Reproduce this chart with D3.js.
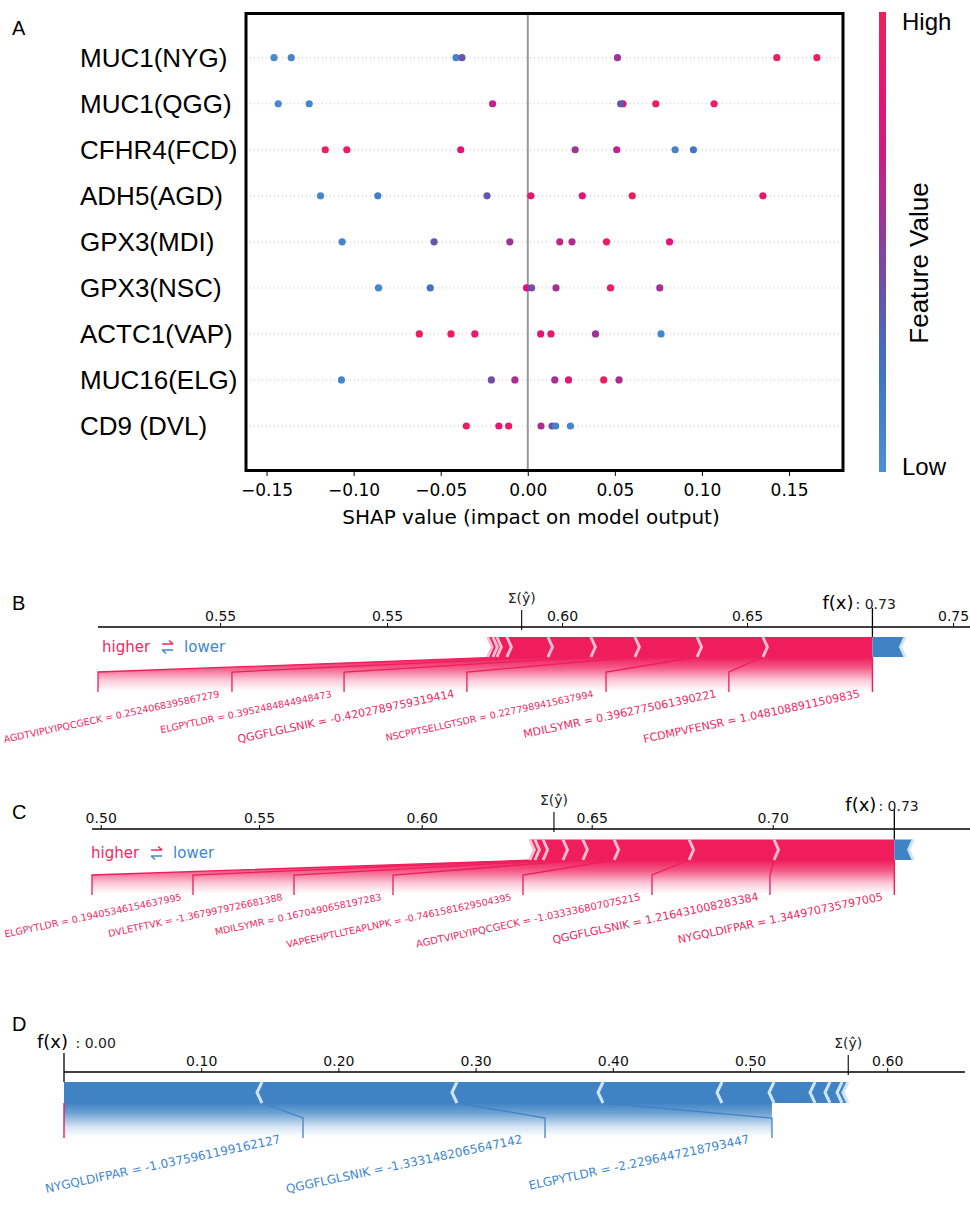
<!DOCTYPE html>
<html><head><meta charset="utf-8">
<script src="https://cdn.jsdelivr.net/npm/d3@7"></script>
<style>body{margin:0;background:#fff} svg{display:block}</style>
</head><body>
<svg id="c" width="970" height="1206"></svg>
<script>
// ---------------- Panel A data ----------------
const rowsA = ["MUC1(NYG)","MUC1(QGG)","CFHR4(FCD)","ADH5(AGD)","GPX3(MDI)","GPX3(NSC)","ACTC1(VAP)","MUC16(ELG)","CD9 (DVL)"];
const shapA = [
 [-0.1457,-0.1358,-0.0412,-0.0378,0.0515,0.143,0.166],
 [-0.1433,-0.1255,-0.0202,0.0547,0.0533,0.0735,0.107],
 [-0.1163,-0.1039,-0.0385,0.0272,0.0511,0.0846,0.0951],
 [-0.119,-0.0861,-0.0234,0.0018,0.0313,0.060,0.135],
 [-0.1066,-0.0538,-0.0103,0.0184,0.0254,0.0452,0.0814],
 [-0.0857,-0.056,-0.0007,0.0022,0.0162,0.0475,0.0758],
 [-0.0623,-0.0441,-0.0304,0.0074,0.0133,0.0389,0.0765],
 [-0.107,-0.0209,-0.0074,0.0155,0.0234,0.0436,0.0524],
 [-0.0353,-0.0166,-0.011,0.0076,0.0139,0.016,0.0245]
];
const featA = [
 [0.05,0.08,0.1,0.4,0.55,0.97,0.98],
 [0.05,0.08,0.65,0.8,0.38,0.95,0.95],
 [0.97,0.95,0.75,0.55,0.65,0.1,0.2],
 [0.08,0.12,0.38,0.8,0.78,0.95,0.85],
 [0.1,0.38,0.55,0.65,0.6,0.95,0.8],
 [0.08,0.2,0.75,0.4,0.58,0.95,0.58],
 [0.97,0.93,0.88,0.8,0.88,0.55,0.08],
 [0.08,0.42,0.6,0.58,0.82,0.95,0.6],
 [0.95,0.82,0.9,0.6,0.4,0.1,0.08]
];
const xTicksA = [-0.15,-0.10,-0.05,0,0.05,0.10,0.15];

// ---------------- Panel B data ----------------
const bOut = 0.6839, bBase = 0.5891;
const bPosShap = [0.0296,0.0178,0.0168,0.0119,0.0116,0.0111,0.0027,0.0011,0.0014];
const bNegShap = [0.0088];
const bLabelText = ["FCDMPVFENSR = 1.0481088911509835","MDILSYMR = 0.3962775061390221","NSCPPTSELLGTSDR = 0.2277989415637994","QGGFLGLSNIK = -0.4202789759319414","ELGPYTLDR = 0.3952484844948473","AGDTVIPLYIPQCGECK = 0.2524068395867279"];
const bLabelEnd = [0.6451,0.6119,0.5743,0.5411,0.5108,0.4746];
const bLabelSize = [11,11,9.5,11,9.5,9.5];
const bTickVals = [0.5076,0.5527,0.60,0.65,0.7057];
const bTickLabels = ["0.55","0.55","0.60","0.65","0.75"];

// ---------------- Panel C data ----------------
const cOut = 0.7336, cBase = 0.6389;
const cPosShap = [0.03324,0.02346,0.0207,0.0088,0.00584,0.00586,0.0024,0.0015];
const cNegShap = [0.0052];
const cLabelText = ["NYGQLDIFPAR = 1.344970735797005","QGGFLGLSNIK = 1.216431008283384","AGDTVIPLYIPQCGECK = -1.033336807075215","VAPEEHPTLLTEAPLNPK = -0.7461581629504395","MDILSYMR = 0.1670490658197283","DVLETFTVK = -1.3679979726681388","ELGPYTLDR = 0.19405346154637995"];
const cLabelEnd = [0.69925,0.66666,0.62979,0.59118,0.56076,0.52915,0.49725];
const cLabelSize = [11,11,10,9.5,9.5,9.5,9.5];
const cTickVals = [0.50,0.55,0.60,0.65,0.70];
const cTickLabels = ["0.50","0.55","0.60","0.65","0.70"];

// ---------------- Panel D data ----------------
const dOut = 0.00, dBase = 0.5716;
const dPosShap = [];
const dNegShap = [0.1443,0.1421,0.1065,0.0867,0.0379,0.0299,0.0109,0.0088,0.0043];
const dLabelText = ["NYGQLDIFPAR = -1.0375961199162127","QGGFLGLSNIK = -1.3331482065647142","ELGPYTLDR = -2.2296447218793447"];
const dLabelEnd = [0.1742,0.3506,0.5160];
const dLabelSize = [12,12,12];
const dTickVals = [0.10,0.20,0.30,0.40,0.50,0.60];
const dTickLabels = ["0.10","0.20","0.30","0.40","0.50","0.60"];

// ---------------- drawing ----------------
const svg = d3.select("#c");
const defs = svg.append("defs");
const SANS = "Liberation Sans, Arial, sans-serif";
const DJ = "DejaVu Sans, sans-serif";

// ===== Panel A =====
const colA = d3.scaleLinear().domain([0,0.25,0.5,0.75,1]).range(["#4b8fd5","#3f6fbf","#8a3f9c","#e0127c","#f0205a"]);
const xA = d3.scaleLinear().domain([-0.1618, 0.181]).range([246, 843]);
const yA = d3.scalePoint().domain(rowsA).range([57.7, 426]);
const gA = svg.append("g");
gA.selectAll("line.grid").data(rowsA).join("line").attr("class","grid")
  .attr("x1",250).attr("x2",840).attr("y1",d=>yA(d)).attr("y2",d=>yA(d))
  .attr("stroke","#c8c8c8").attr("stroke-width",1).attr("stroke-dasharray","1,3");
gA.append("line").attr("x1",xA(0)).attr("x2",xA(0)).attr("y1",14).attr("y2",470)
  .attr("stroke","#999").attr("stroke-width",2);
rowsA.forEach((r,i)=>{
  gA.selectAll(null).data(shapA[i].map((v,j)=>({v,f:featA[i][j]}))).join("circle")
    .attr("cx",d=>xA(d.v)).attr("cy",yA(r)).attr("r",3.6).attr("fill",d=>colA(d.f));
});
gA.append("rect").attr("x",246).attr("y",13.5).attr("width",597).attr("height",457)
  .attr("fill","none").attr("stroke","#000").attr("stroke-width",3);
const axA = gA.append("g").attr("transform","translate(0,471)")
  .call(d3.axisBottom(xA).tickValues(xTicksA).tickFormat(d3.format(".2f")).tickSize(5).tickPadding(8));
axA.select(".domain").remove();
axA.selectAll("line").attr("stroke","#000");
axA.selectAll("text").attr("font-family",DJ).attr("font-size",17).attr("fill","#000");
gA.append("text").attr("x",531).attr("y",524).attr("text-anchor","middle")
  .attr("font-family",DJ).attr("font-size",20).text("SHAP value (impact on model output)");
gA.selectAll("text.row").data(rowsA).join("text").attr("class","row")
  .attr("x",80).attr("y",d=>yA(d)+9).attr("font-family",SANS).attr("font-size",26).text(d=>d);
gA.append("text").attr("x",12).attr("y",35).attr("font-family",SANS).attr("font-size",20).text("A");
// colorbar
const cbg = defs.append("linearGradient").attr("id","cbar").attr("x1",0).attr("y1",1).attr("x2",0).attr("y2",0);
d3.range(0,1.0001,0.1).forEach(t=>cbg.append("stop").attr("offset",t).attr("stop-color",colA(t)));
gA.append("rect").attr("x",879).attr("y",12).attr("width",7).attr("height",460).attr("fill","url(#cbar)");
gA.append("text").attr("x",902).attr("y",30).attr("font-family",SANS).attr("font-size",24).text("High");
gA.append("text").attr("x",902).attr("y",475).attr("font-family",SANS).attr("font-size",24).text("Low");
gA.append("text").attr("transform","translate(928,263) rotate(-90)").attr("text-anchor","middle")
  .attr("font-family",SANS).attr("font-size",26).text("Feature Value");

// ===== Force panels =====
const RED="#ef1d5b", REDL="#fbbdd0", BLUE="#3f83c5", BLUEL="#cfe4f8", REDT="#f0285f", BLUET="#3d87cf";

function force(p){
  const g = svg.append("g");
  const x = p.x;
  const top = p.barTop, bot = p.barTop + p.barH, mid = (top+bot)/2;
  const O = x(p.out);
  const ind = p.ind;
  const isPos = p.labelType === "pos";
  const col = isPos ? RED : BLUE, colT = isPos ? REDT : BLUET;

  const rects = [], seps = [], posLeft = [], negRight = [];
  let pre = p.out;
  p.pos.forEach((c,i)=>{
    const L = x(pre - c), R = x(pre); pre -= c; posLeft.push(L);
    const pts = i===0 ? [[L,bot],[R,bot],[R,top],[L,top],[L+ind,mid]]
      : [[L,bot],[R,bot],[R+ind*0.9,mid],[R,top],[L,top],[L+ind*0.9,mid]];
    rects.push({pts, fill:RED}); seps.push({pts:[[L,bot],[L+ind,mid],[L,top]], stroke:REDL});
  });
  pre = p.out;
  p.neg.forEach((c,i)=>{
    const L = x(pre), R = x(pre + c); pre += c; negRight.push(R);
    const pts = i===0 ? [[R,bot],[L,bot],[L,top],[R,top],[R-ind,mid]]
      : [[L,bot],[R,bot],[R-ind*0.9,mid],[R,top],[L,top],[L-ind*0.9,mid]];
    rects.push({pts, fill:BLUE}); seps.push({pts:[[R,bot],[R-ind,mid],[R,top]], stroke:BLUEL});
  });

  const gid = "sh"+p.id;
  const lg = defs.append("linearGradient").attr("id",gid).attr("gradientUnits","userSpaceOnUse")
    .attr("x1",0).attr("y1",bot).attr("x2",0).attr("y2",bot+34);
  [[0,1],[0.3,0.75],[0.7,0.22],[1,0]].forEach(s=>lg.append("stop").attr("offset",s[0]).attr("stop-color",col).attr("stop-opacity",s[1]));
  const nL = p.labels.length;
  const vals = isPos ? posLeft.slice(0,nL) : negRight.slice(0,nL);
  const ends = p.labelEnd.map(v=>x(v));
  const Elast = ends[nL-1], Plast = vals[nL-1];
  const shade = isPos ? [[O,bot],[Plast,bot],[Elast,bot+15],[Elast,bot+40],[O,bot+40]]
                      : [[O,bot],[Elast,bot],[Elast,bot+40],[O,bot+40]];
  g.append("path").attr("d", d3.line()(shade)+"Z").attr("fill",`url(#${gid})`);

  g.append("line").attr("x1",O).attr("x2",O).attr("y1",bot).attr("y2",bot+35).attr("stroke",RED).attr("stroke-width",1.4);
  vals.forEach((v,i)=>{
    g.append("path").attr("d",d3.line()([[v,bot],[ends[i],bot+15],[ends[i],bot+35]]))
      .attr("fill","none").attr("stroke",col).attr("stroke-width",1.3);
  });

  g.selectAll("path.bar").data(rects).join("path").attr("class","bar")
    .attr("d",d=>d3.line()(d.pts)+"Z").attr("fill",d=>d.fill);
  g.selectAll("path.sep").data(seps).join("path").attr("class","sep")
    .attr("d",d=>d3.line()(d.pts)).attr("fill","none").attr("stroke",d=>d.stroke).attr("stroke-width",3);

  p.labels.forEach((t,i)=>{
    const rightTick = isPos ? (i===0 ? O : ends[i-1]) : ends[i];
    const ex = rightTick - p.textOff;
    g.append("text").attr("transform",`translate(${ex},${bot+40}) rotate(-12)`)
      .attr("text-anchor","end").attr("font-family",DJ).attr("font-size",p.labelSize[i])
      .attr("fill",colT).text(t);
  });

  const ay = p.axisY;
  g.append("line").attr("x1",p.axisX[0]).attr("x2",p.axisX[1]).attr("y1",ay).attr("y2",ay)
    .attr("stroke","#000").attr("stroke-width",1.4);
  const ax = g.append("g").attr("transform",`translate(0,${ay})`)
    .call(d3.axisTop(x).tickValues(p.ticks).tickFormat((d,i)=>p.tickLabels[i]).tickSize(4).tickPadding(2));
  ax.select(".domain").remove();
  ax.selectAll("line").attr("stroke","#000");
  ax.selectAll("text").attr("font-family",DJ).attr("font-size",14).attr("fill","#111");

  const Bx = x(p.base);
  g.append("line").attr("x1",Bx).attr("x2",Bx).attr("y1",ay-17).attr("y2",ay+3).attr("stroke","#000").attr("stroke-width",1.1);
  g.append("text").attr("x",Bx).attr("y",ay-24).attr("text-anchor","middle").attr("font-family",DJ)
    .attr("font-size",14).attr("fill","#222").text("Σ(ŷ)");

  g.append("line").attr("x1",O).attr("x2",O).attr("y1",ay-19).attr("y2",top).attr("stroke","#000").attr("stroke-width",1.3);
  const ft = g.append("text").attr("x",O+p.fxDx).attr("y",ay+p.fxDy).attr("font-family",DJ);
  ft.append("tspan").attr("font-size",18).attr("fill","#000").text("f(x)");
  ft.append("tspan").attr("font-size",14).attr("fill","#222").attr("dx",p.fxGap).text(p.fxVal);

  if (p.legend){
    const lx = p.legend[0], ly = p.legend[1];
    const h = g.append("text").attr("x",lx).attr("y",ly).attr("font-family",DJ).attr("font-size",15).attr("fill",REDT).text("higher");
    const w = h.node().getComputedTextLength();
    const a = lx + w + 12, cy = ly - 5;
    g.append("path").attr("d",`M${a},${cy-3}H${a+11}M${a+7},${cy-6.5}L${a+11},${cy-3}`).attr("fill","none").attr("stroke",REDT).attr("stroke-width",1.6);
    g.append("path").attr("d",`M${a+11},${cy+3}H${a}M${a+4},${cy+6.5}L${a},${cy+3}`).attr("fill","none").attr("stroke",BLUET).attr("stroke-width",1.6);
    g.append("text").attr("x",a+22).attr("y",ly).attr("font-family",DJ).attr("font-size",15).attr("fill",BLUET).text("lower");
  }
  g.append("text").attr("x",p.letter[1]).attr("y",p.letter[2]).attr("font-family",SANS).attr("font-size",20).text(p.letter[0]);
}

const xB = d3.scaleLinear().domain([0.60,0.65]).range([562,747]);
force({id:"B", x:xB, out:bOut, base:bBase, pos:bPosShap, neg:bNegShap, labelType:"pos",
  labels:bLabelText, labelEnd:bLabelEnd, labelSize:bLabelSize, ticks:bTickVals, tickLabels:bTickLabels,
  axisY:627, axisX:[98,970], barTop:637, barH:20, ind:4.5, textOff:12,
  fxDx:-50, fxDy:-18, fxGap:2, fxVal:": 0.73", legend:[102,652], letter:["B",12,610]});

const xC = d3.scaleLinear().domain([0.50,0.55,0.60,0.65,0.70]).range([100.7,259,421.7,591.7,772.7]);
force({id:"C", x:xC, out:cOut, base:cBase, pos:cPosShap, neg:cNegShap, labelType:"pos",
  labels:cLabelText, labelEnd:cLabelEnd, labelSize:cLabelSize, ticks:cTickVals, tickLabels:cTickLabels,
  axisY:829, axisX:[92,970], barTop:839.5, barH:20.5, ind:4.5, textOff:11,
  fxDx:-49, fxDy:-18, fxGap:2, fxVal:": 0.73", legend:[91,858], letter:["C",12,819]});

const xD = d3.scaleLinear().domain([0,0.6]).range([64,887.2]);
force({id:"D", x:xD, out:dOut, base:dBase, pos:dPosShap, neg:dNegShap, labelType:"neg",
  labels:dLabelText, labelEnd:dLabelEnd, labelSize:dLabelSize, ticks:dTickVals, tickLabels:dTickLabels,
  axisY:1072, axisX:[64,965], barTop:1082, barH:21, ind:5, textOff:22,
  fxDx:-27, fxDy:-24, fxGap:3, fxVal:" : 0.00", legend:null, letter:["D",12,1031]});
</script>
</body></html>
